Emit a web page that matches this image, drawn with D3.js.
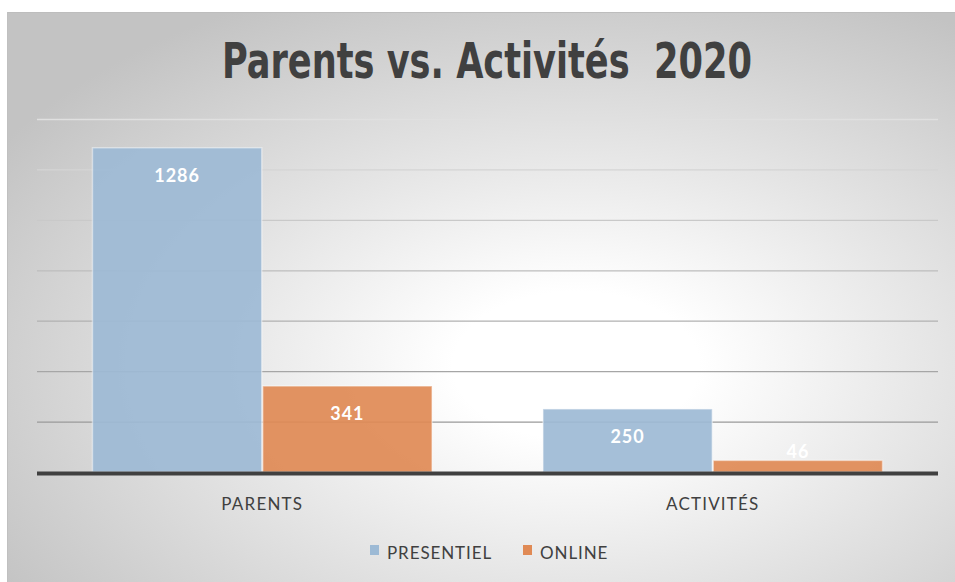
<!DOCTYPE html>
<html><head><meta charset="utf-8">
<script src="https://cdn.jsdelivr.net/npm/d3@7"></script>
<style>html,body{margin:0;padding:0;background:#fff;}svg{display:block;}</style>
</head><body>
<script>
const categories = ["PARENTS", "ACTIVITÉS"];
const seriesNames = ["PRESENTIEL", "ONLINE"];
const presentiel = [1286, 250];
const online = [341, 46];
const yTicks = [0, 200, 400, 600, 800, 1000, 1200, 1400];
const title = "Parents vs. Activités  2020";

const W = 955, H = 582;
const svg = d3.select("body").append("svg").attr("width", W).attr("height", H);
const defs = svg.append("defs");
const rg = defs.append("radialGradient").attr("id", "bg")
  .attr("cx", 0.6).attr("cy", 0.62).attr("r", 0.72);
rg.append("stop").attr("offset", "0").attr("stop-color", "#ffffff");
rg.append("stop").attr("offset", "0.18").attr("stop-color", "#ffffff");
rg.append("stop").attr("offset", "1").attr("stop-color", "#c3c3c3");

svg.append("rect").attr("x", 7).attr("y", 12).attr("width", W - 7).attr("height", H - 12)
  .attr("fill", "url(#bg)");
svg.append("line").attr("x1", 7).attr("x2", W).attr("y1", 12.5).attr("y2", 12.5).attr("stroke", "#bdbdbd");
svg.append("line").attr("x1", 7.5).attr("x2", 7.5).attr("y1", 12).attr("y2", H).attr("stroke", "#c0c0c0");

const plot = {left: 37, right: 938, top: 119, bottom: 472};
const x0 = d3.scaleBand().domain(categories).range([plot.left, plot.right]).paddingInner(0.244).paddingOuter(0.122);
const x1 = d3.scaleBand().domain(seriesNames).range([0, x0.bandwidth()]).padding(0);
const y = d3.scaleLinear().domain([0, 1400]).range([plot.bottom, plot.top]);
const color = d3.scaleOrdinal().domain(seriesNames).range(["#9dbad5", "#e08a55"]);
const gridCol = d3.scaleLinear().domain([1400, 200]).range(["#e0e0e0", "#9a9a9a"]);

// gridlines
svg.append("g").selectAll("line").data(yTicks.filter(d => d > 0)).join("line")
  .attr("x1", plot.left).attr("x2", plot.right)
  .attr("y1", d => y(d) + 0.5).attr("y2", d => y(d) + 0.5)
  .attr("stroke", d => gridCol(d)).attr("stroke-width", 1.3);

// title
svg.append("text").attr("x", 487).attr("y", 78).attr("text-anchor", "middle")
  .style("white-space", "pre").attr("xml:space", "preserve")
  .attr("font-family", "'DejaVu Sans Condensed', 'DejaVu Sans', sans-serif")
  .attr("textLength", 530).attr("lengthAdjust", "spacingAndGlyphs")
  .attr("font-weight", "bold").attr("font-size", 50).attr("fill", "#404040").text(title);

const rows = categories.map((c, i) => ({cat: c, vals: [
  {s: seriesNames[0], v: presentiel[i]}, {s: seriesNames[1], v: online[i]}]}));

const g = svg.append("g").selectAll("g").data(rows).join("g")
  .attr("transform", d => `translate(${x0(d.cat)},0)`);
g.selectAll("rect").data(d => d.vals).join("rect")
  .attr("x", d => x1(d.s) + 0.5).attr("width", x1.bandwidth() - 1)
  .attr("y", d => y(d.v)).attr("height", d => y(0) - y(d.v))
  .attr("fill", d => color(d.s)).attr("fill-opacity", 0.92)
  .attr("stroke", "#ffffff").attr("stroke-opacity", 0.45).attr("stroke-width", 1.5);
g.selectAll("text").data(d => d.vals).join("text")
  .attr("x", d => x1(d.s) + x1.bandwidth() / 2)
  .attr("y", d => Math.min(y(d.v) + 34, y(0) - 14))
  .attr("text-anchor", "middle").attr("fill", "#ffffff")
  .attr("font-family", "Lato, 'Open Sans', sans-serif").attr("font-weight", "bold")
  .attr("font-size", 18).attr("letter-spacing", 1).text(d => d.v);

// baseline
svg.append("line").attr("x1", plot.left).attr("x2", plot.right)
  .attr("y1", y(0) + 1.5).attr("y2", y(0) + 1.5).attr("stroke", "#404040").attr("stroke-width", 4);

// category labels
svg.append("g").selectAll("text").data(categories).join("text")
  .attr("x", d => x0(d) + x0.bandwidth() / 2).attr("y", 510).attr("text-anchor", "middle")
  .attr("font-family", "Lato, 'Open Sans', sans-serif").attr("font-size", 17)
  .attr("letter-spacing", 1.2).attr("fill", "#404040").text(d => d);

// legend
const legX = [370, 523];
const leg = svg.append("g").selectAll("g").data(seriesNames).join("g")
  .attr("transform", (d, i) => `translate(${legX[i]},545)`);
leg.append("rect").attr("width", 9).attr("height", 10).attr("fill", d => color(d));
leg.append("text").attr("x", 17).attr("y", 14)
  .attr("font-family", "Lato, 'Open Sans', sans-serif").attr("font-size", 17)
  .attr("letter-spacing", 0.9).attr("fill", "#404040").text(d => d);
</script>
</body></html>
